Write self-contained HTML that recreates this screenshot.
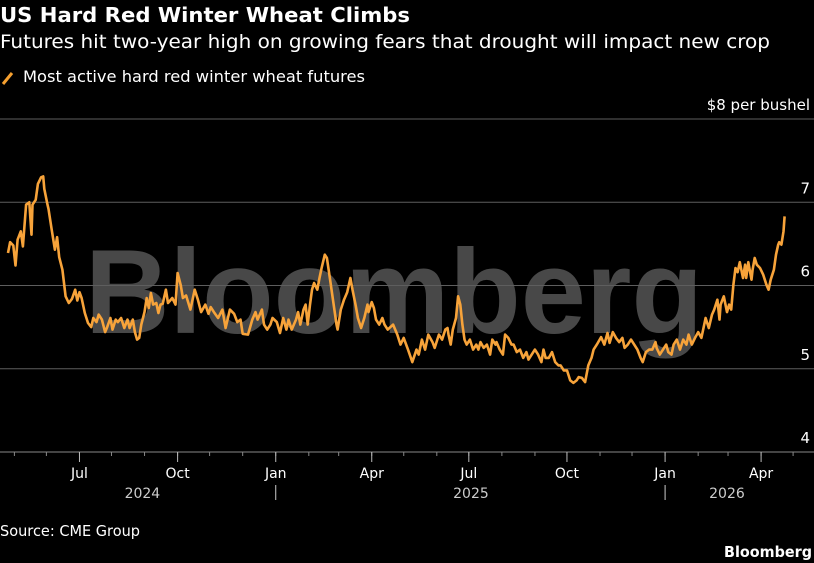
<!DOCTYPE html>
<html><head><meta charset="utf-8"><style>
html,body{margin:0;padding:0;background:#000;}
svg{display:block;font-family:"DejaVu Sans","Liberation Sans",sans-serif;}
</style></head><body>
<svg id="chart" width="814" height="563" viewBox="0 0 814 563" xmlns="http://www.w3.org/2000/svg">
<rect width="814" height="563" fill="#000"/>
<text x="0" y="22" fill="#fff" font-weight="bold" font-size="20" textLength="410" lengthAdjust="spacingAndGlyphs">US Hard Red Winter Wheat Climbs</text>
<text x="0" y="48" fill="#fff" font-size="19" textLength="770" lengthAdjust="spacingAndGlyphs">Futures hit two-year high on growing fears that drought will impact new crop</text>
<g>
<line x1="3" y1="84" x2="12" y2="73" stroke="#f5a030" stroke-width="3"/>
<text x="23" y="82" fill="#fff" font-size="16" textLength="342" lengthAdjust="spacingAndGlyphs">Most active hard red winter wheat futures</text>
</g>
<text x="85" y="333" fill="#5a5a5a" fill-opacity="0.8" font-family="Liberation Sans, sans-serif" font-weight="bold" font-size="120" textLength="618" lengthAdjust="spacingAndGlyphs">Bloomberg</text>
<g id="grid"></g>
<g id="xaxis"></g>
<path id="line" fill="none" stroke="#f7a33a" stroke-width="2.6" stroke-linejoin="round"/>
<text x="0" y="536" fill="#fff" font-size="15" textLength="140" lengthAdjust="spacingAndGlyphs">Source: CME Group</text>
<text x="812" y="557" fill="#fff" font-size="15" font-weight="bold" text-anchor="end" textLength="88" lengthAdjust="spacingAndGlyphs">Bloomberg</text>
</svg>
<script>
// days since 2024-04-25
const days=[0,2,5,7,9,12,14,17,20,22,23,26,28,31,33,34,37,38,41,44,46,48,51,54,57,60,63,65,67,69,72,75,78,80,83,85,88,91,93,96,98,101,103,106,109,112,114,117,119,121,123,125,128,130,132,134,136,139,141,143,145,148,150,154,157,159,162,164,167,171,175,178,181,185,188,190,193,197,201,204,208,212,215,218,220,225,229,232,234,238,240,243,246,248,252,255,258,261,263,266,270,272,274,277,279,281,283,285,287,290,292,294,297,299,302,305,308,309,312,315,318,321,323,326,328,331,334,337,338,341,343,345,348,351,353,356,361,365,368,371,375,379,383,385,388,391,394,398,400,404,407,410,412,413,415,417,420,422,424,426,428,430,433,436,439,441,443,446,449,452,454,457,458,461,464,466,469,472,474,477,480,483,486,488,491,494,497,500,502,504,507,510,513,516,518,521,524,527,530,533,535,538,541,544,547,549,552,556,559,562,564,567,570,573,576,578,581,584,587,590,593,595,598,601,604,607,608,611,614,617,619,622,624,627,630,633,636,638,641,644,647,650,652,654,657,660,662,665,667,668,671,674,676,678,680,682,684,686,689,691,692,694,697,698,700,702,705,708,711,713,715,718,720,722,723,725,727,728];
const prices=[6.39,6.52,6.48,6.24,6.55,6.65,6.47,6.97,7.00,6.61,6.97,7.03,7.22,7.30,7.31,7.16,6.97,6.92,6.67,6.43,6.58,6.34,6.19,5.87,5.79,5.84,5.95,5.82,5.92,5.85,5.67,5.55,5.50,5.61,5.56,5.65,5.59,5.44,5.50,5.61,5.47,5.59,5.56,5.61,5.49,5.59,5.49,5.59,5.44,5.35,5.37,5.53,5.68,5.85,5.73,5.91,5.77,5.79,5.67,5.77,5.78,5.95,5.79,5.85,5.77,6.15,6.00,5.85,5.88,5.71,5.95,5.83,5.68,5.77,5.66,5.74,5.68,5.61,5.71,5.49,5.71,5.66,5.56,5.59,5.42,5.41,5.59,5.68,5.59,5.71,5.53,5.47,5.53,5.61,5.56,5.43,5.61,5.47,5.59,5.47,5.59,5.68,5.53,5.71,5.77,5.53,5.76,5.95,6.03,5.95,6.09,6.21,6.37,6.33,6.07,5.80,5.53,5.47,5.71,5.83,5.92,6.09,5.95,5.76,5.61,5.49,5.61,5.77,5.68,5.80,5.73,5.59,5.53,5.61,5.53,5.47,5.53,5.41,5.29,5.37,5.23,5.08,5.23,5.17,5.35,5.23,5.41,5.32,5.25,5.41,5.35,5.47,5.49,5.41,5.29,5.47,5.61,5.87,5.77,5.53,5.35,5.29,5.35,5.23,5.29,5.23,5.32,5.25,5.29,5.17,5.35,5.29,5.32,5.23,5.17,5.41,5.37,5.29,5.29,5.20,5.23,5.13,5.20,5.11,5.17,5.23,5.17,5.08,5.23,5.13,5.13,5.20,5.08,5.04,5.04,4.98,4.98,4.86,4.83,4.86,4.90,4.89,4.84,5.04,5.13,5.23,5.29,5.38,5.29,5.43,5.31,5.44,5.37,5.32,5.37,5.25,5.29,5.35,5.29,5.23,5.13,5.08,5.20,5.23,5.23,5.32,5.25,5.17,5.23,5.29,5.20,5.17,5.29,5.35,5.23,5.35,5.29,5.41,5.29,5.37,5.44,5.37,5.49,5.61,5.49,5.65,5.71,5.83,5.59,5.77,5.87,5.68,5.77,5.71,6.01,6.21,6.16,6.28,6.09,6.25,6.09,6.28,6.07,6.19,6.33,6.25,6.21,6.13,6.01,5.95,6.07,6.19,6.37,6.49,6.52,6.49,6.65,6.83];
const yTicks=[4,5,6,7,8];
const yTickLabels=["4","5","6","7","$8 per bushel"];
const monthTicks=[6,36,67,97,128,159,189,220,251,282,310,341,371,402,432,463,494,524,555,585,616,647,675,706,736];
const majorTicks=[67,159,251,341,432,524,616,706];
const majorLabels=["Jul","Oct","Jan","Apr","Jul","Oct","Jan","Apr"];
const yearLabels=[{d:126,t:"2024"},{d:434,t:"2025"},{d:674,t:"2026"}];
const yearDividers=[251,616];

const NS="http://www.w3.org/2000/svg";
const x=d=>8+d*1.0667;
const y=v=>119+(8-v)*83.25;
function mk(tag,attrs,parent){const e=document.createElementNS(NS,tag);for(const k in attrs)e.setAttribute(k,attrs[k]);parent.appendChild(e);return e;}
const grid=document.getElementById('grid');
yTicks.forEach((v,i)=>{
  const l=mk('line',{x1:0,x2:814,y1:y(v),y2:y(v),stroke:i===0?'#888':'#5e5e5e','stroke-width':1},grid);
  
  
  const t=mk('text',{x:810,y:y(v)-9,fill:'#fff','font-size':15,'text-anchor':'end'},grid);
  t.textContent=yTickLabels[i];
  
  
});
const xa=document.getElementById('xaxis');
const base=y(4);
monthTicks.forEach(d=>{
  const l=mk('line',{x1:x(d),x2:x(d),y1:base,y2:base+4,stroke:'#888','stroke-width':1},xa);
  
  
});
majorTicks.forEach((d,i)=>{
  const l=mk('line',{x1:x(d),x2:x(d),y1:base,y2:base+10,stroke:'#bbb','stroke-width':1},xa);
  
  
  const t=mk('text',{x:x(d),y:base+26,fill:'#fff','font-size':14,'text-anchor':'middle'},xa);
  t.textContent=majorLabels[i];
  
  
});
yearLabels.forEach(o=>{
  const t=mk('text',{x:x(o.d),y:base+46,fill:'#ccc','font-size':14,'text-anchor':'middle'},xa);
  t.textContent=o.t;
  
  
});
yearDividers.forEach(d=>{
  const l=mk('line',{x1:x(d),x2:x(d),y1:base+33,y2:base+48,stroke:'#ccc','stroke-width':1},xa);
  
  
});
document.getElementById('line').setAttribute('d',days.map((d,i)=>(i?'L':'M')+x(d).toFixed(1)+','+y(prices[i]).toFixed(1)).join(''));
</script>
</body></html>
